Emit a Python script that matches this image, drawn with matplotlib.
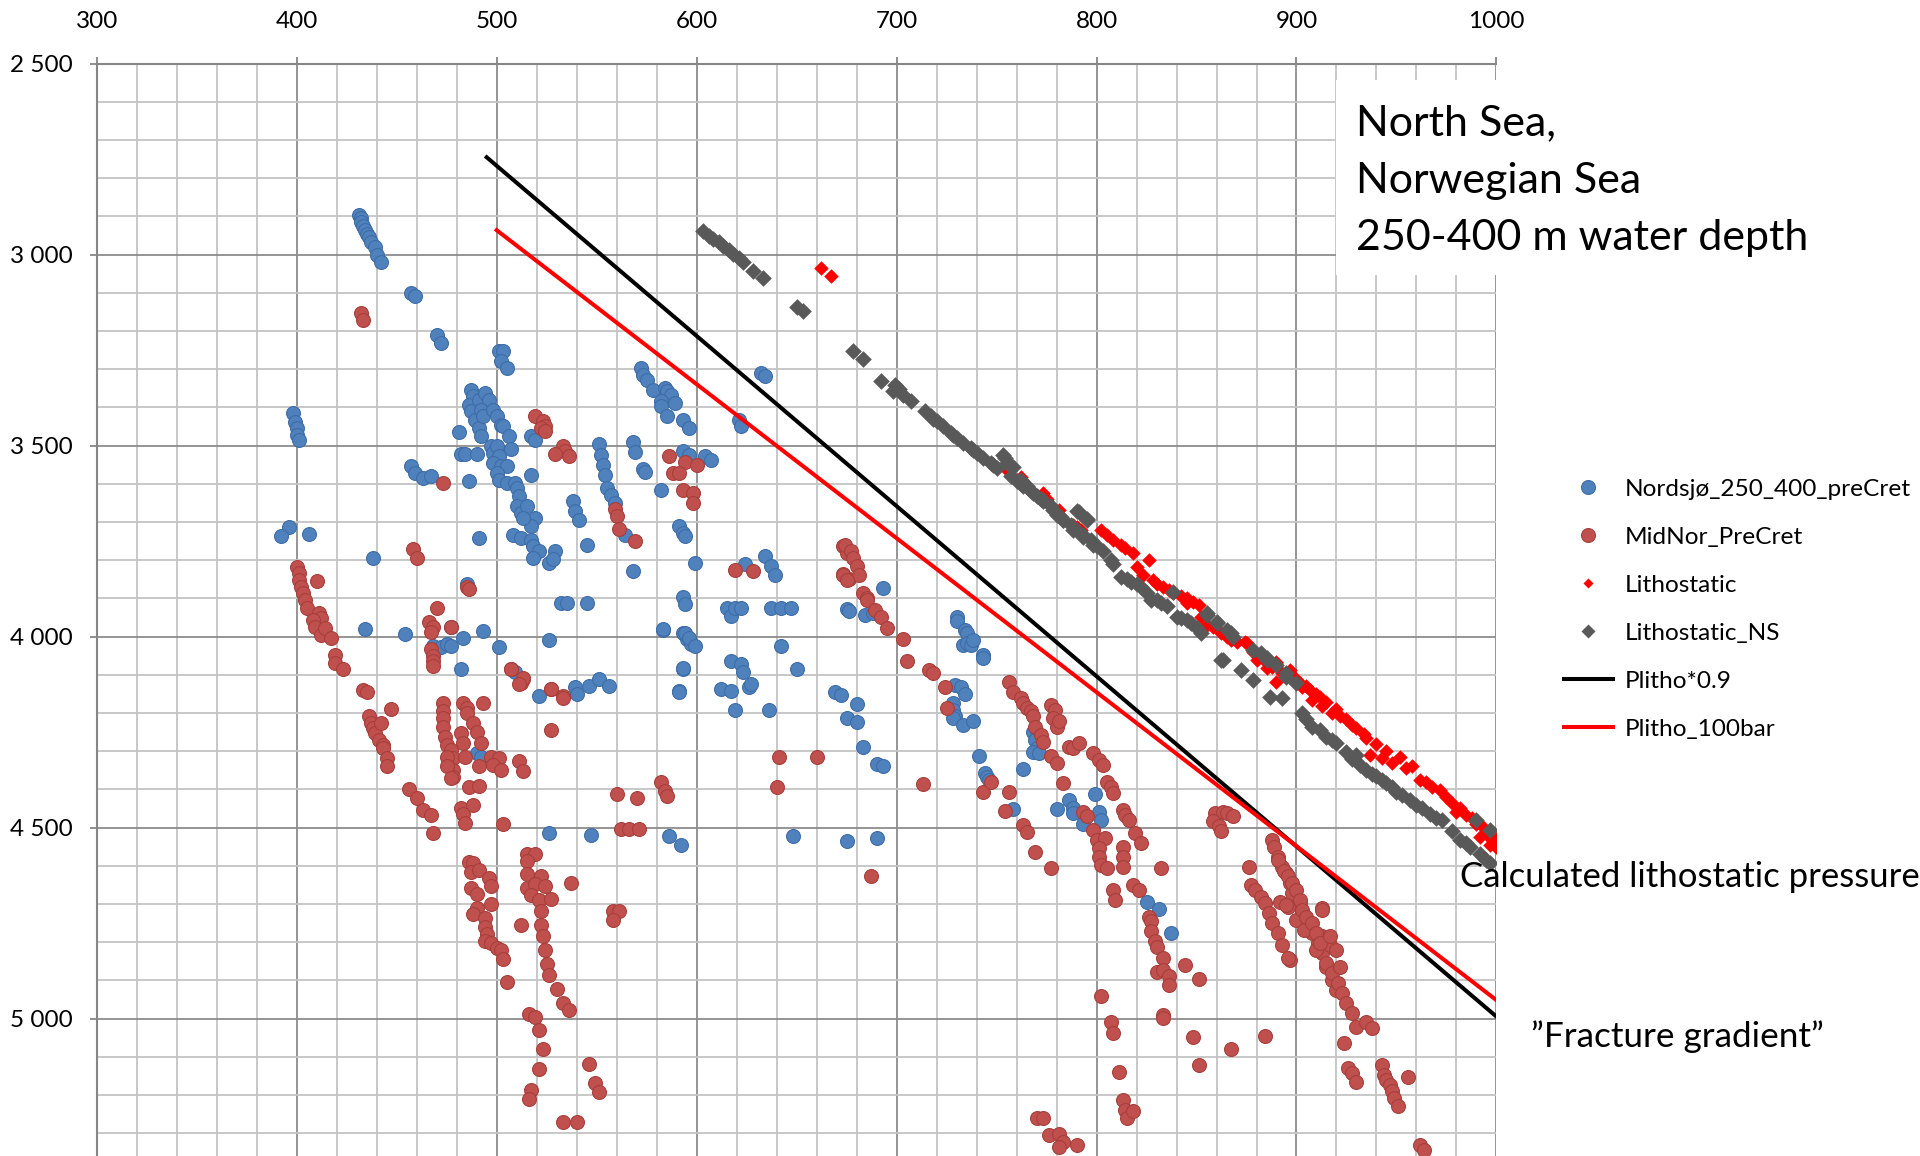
import matplotlib
matplotlib.use('Agg')
import matplotlib.pyplot as plt
from matplotlib.ticker import MultipleLocator, FuncFormatter
from matplotlib.lines import Line2D
from matplotlib.patches import Rectangle

# pore pressure (bar) vs depth (m)
nordsjo = [
    (431, 2895), (432, 2905), (432, 2915), (433, 2925), (434, 2935), (435, 2945), (436, 2955), (437, 2968),
    (439, 2980), (440, 3000), (442, 3020), (457, 3100), (459, 3108), (470, 3210), (472, 3232),
    (501, 3253), (503, 3253), (502, 3279), (505, 3297),
    (487, 3354), (488, 3371), (486, 3393), (487, 3410), (489, 3432), (491, 3454), (492, 3476), (491, 3380),
    (494, 3362), (496, 3380), (492, 3406), (493, 3423),
    (498, 3406), (500, 3423), (502, 3445), (503, 3448), (506, 3476), (507, 3510), (497, 3502), (498, 3519),
    (500, 3502), (501, 3528), (498, 3545), (502, 3554), (505, 3554), (500, 3571), (501, 3589), (505, 3598),
    (509, 3598), (510, 3611), (511, 3632), (510, 3659), (512, 3676), (515, 3659), (519, 3689), (517, 3711),
    (513, 3689), (508, 3733), (512, 3741), (517, 3746), (518, 3763), (521, 3776), (518, 3794), (526, 3807),
    (529, 3776), (528, 3798),
    (481, 3464), (482, 3521), (484, 3521), (490, 3521), (486, 3593), (491, 3743), (457, 3554), (459, 3571),
    (463, 3585), (467, 3580), (438, 3794), (517, 3476), (519, 3485), (517, 3576), (538, 3645), (539, 3672),
    (541, 3696), (551, 3497), (552, 3524), (553, 3550), (554, 3576), (555, 3611), (557, 3628), (559, 3650),
    (564, 3733), (545, 3761), (568, 3490), (569, 3517), (573, 3560), (574, 3569), (582, 3615), (591, 3711),
    (593, 3728), (594, 3737), (599, 3807), (593, 3515), (596, 3524), (604, 3528), (607, 3538), (621, 3432),
    (622, 3448), (632, 3310), (634, 3319), (572, 3297), (573, 3315), (575, 3328), (578, 3354), (584, 3349),
    (585, 3358), (587, 3367), (589, 3389), (582, 3384), (582, 3397), (585, 3423), (593, 3432), (596, 3454),
    (485, 3863), (532, 3913), (535, 3913), (545, 3913), (624, 3811), (634, 3789), (637, 3815), (639, 3839),
    (568, 3828), (593, 3896), (594, 3914), (615, 3924), (617, 3946), (619, 3926), (622, 3926), (637, 3924),
    (642, 3926), (647, 3926), (675, 3928), (693, 3873),
    (434, 3981), (454, 3994), (477, 3976), (493, 3985), (483, 4005), (501, 4026), (526, 4010), (583, 3983),
    (593, 3990), (595, 4007), (597, 4020), (642, 4024), (650, 4084), (468, 4024), (472, 4028), (475, 4020),
    (477, 4024), (482, 4085), (509, 4094), (593, 4085), (617, 4064), (622, 4072), (623, 4094), (612, 4137),
    (617, 4142), (626, 4131), (627, 4125), (669, 4146), (521, 4155), (539, 4133), (540, 4151), (546, 4129),
    (551, 4111), (556, 4129), (591, 4142),
    (398, 3415), (399, 3437), (400, 3455), (400, 3472), (401, 3485), (396, 3712), (392, 3736), (406, 3731),
    (490, 4305), (492, 4314), (526, 4515), (547, 4519), (586, 4522), (592, 4547), (591, 4144), (593, 4083),
    (583, 3981), (594, 3991), (596, 4005), (599, 4024), (619, 4192), (636, 4192), (648, 4522),
    (676, 3932), (684, 3943), (688, 3939), (730, 3948), (730, 3958), (734, 3983), (735, 3991), (733, 4022),
    (735, 4017), (737, 4022), (738, 4009), (743, 4048), (743, 4057), (672, 4153), (680, 4176), (675, 4214),
    (680, 4223), (683, 4288), (690, 4333), (693, 4339), (675, 4534), (690, 4528), (729, 4127), (732, 4131),
    (734, 4150), (728, 4173), (728, 4192), (729, 4209), (728, 4214), (733, 4231), (738, 4222), (741, 4312),
    (744, 4356), (745, 4367), (746, 4375), (758, 4451), (763, 4346), (768, 4249), (769, 4271), (770, 4292),
    (768, 4301), (771, 4305), (780, 4452), (786, 4429), (788, 4449), (788, 4462), (793, 4490), (799, 4412),
    (801, 4458), (802, 4480), (825, 4694), (831, 4713), (837, 4777),
]

midnor = [
    (432, 3153), (433, 3171), (519, 3423), (523, 3436), (524, 3449), (522, 3453), (524, 3462), (533, 3502),
    (534, 3515), (529, 3521), (536, 3528), (473, 3599), (559, 3667), (560, 3685), (561, 3719), (569, 3750),
    (586, 3528), (594, 3544), (600, 3551), (588, 3571), (591, 3571), (593, 3615), (598, 3624), (598, 3650),
    (458, 3770), (460, 3794), (485, 3869), (486, 3876), (470, 3924), (466, 3963), (468, 3976), (467, 3989),
    (477, 3976), (467, 4033), (468, 4050), (468, 4063), (468, 4076), (433, 4139), (435, 4144), (507, 4084),
    (513, 4112), (512, 4122), (527, 4136), (619, 3826), (628, 3828), (673, 3763), (675, 3780), (673, 3837),
    (676, 3850), (533, 4155),
    (400, 3817), (401, 3834), (401, 3852), (402, 3869), (403, 3887), (404, 3904), (405, 3926), (410, 3854),
    (411, 3939), (412, 3952), (408, 3956), (409, 3974), (412, 3996), (414, 3978), (417, 4004), (419, 4048),
    (419, 4070), (423, 4085), (447, 4189), (436, 4209), (437, 4227), (438, 4240), (439, 4253), (441, 4270),
    (443, 4284), (443, 4292), (445, 4319), (445, 4340), (442, 4227),
    (473, 4175), (473, 4196), (473, 4214), (473, 4236), (474, 4262), (475, 4284), (477, 4297), (478, 4319),
    (475, 4314), (478, 4349), (478, 4367), (483, 4173), (485, 4188), (485, 4201), (482, 4253), (488, 4227),
    (490, 4249), (492, 4279), (483, 4279), (484, 4314), (491, 4340), (493, 4173), (497, 4314), (501, 4319),
    (498, 4336), (502, 4349), (511, 4327), (513, 4353), (527, 4138), (533, 4161), (527, 4244), (513, 4109),
    (511, 4124), (507, 4085),
    (456, 4399), (460, 4422), (463, 4455), (467, 4468), (468, 4515), (475, 4339), (477, 4371), (482, 4450),
    (483, 4464), (484, 4487), (488, 4441), (503, 4492), (486, 4394), (491, 4390),
    (486, 4589), (488, 4594), (487, 4617), (491, 4612), (487, 4659), (490, 4673), (490, 4710), (488, 4726),
    (494, 4737), (494, 4761), (495, 4779), (494, 4798), (497, 4802), (500, 4816), (502, 4821), (503, 4844),
    (496, 4631), (497, 4654), (497, 4701), (505, 4904),
    (515, 4570), (519, 4568), (515, 4587), (515, 4622), (522, 4626), (515, 4659), (519, 4649), (517, 4677),
    (521, 4691), (524, 4654), (527, 4686), (522, 4719), (522, 4756), (523, 4784), (524, 4821), (525, 4858),
    (526, 4886), (530, 4923), (533, 4960), (536, 4977), (512, 4756), (537, 4645), (516, 4988), (519, 4997),
    (521, 5030), (523, 5081), (521, 5132), (517, 5187), (516, 5210), (546, 5118), (549, 5169), (551, 5192),
    (533, 5271), (540, 5271), (560, 4411), (570, 4422), (562, 4504), (566, 4504), (571, 4504), (558, 4719),
    (561, 4719), (558, 4742), (582, 4380), (584, 4404), (585, 4417), (641, 4314), (640, 4394), (660, 4314),
    (674, 3759), (677, 3777), (678, 3794), (680, 3816), (681, 3838), (673, 3838), (675, 3851), (683, 3886),
    (685, 3899),
    (685, 3904), (689, 3930), (692, 3948), (695, 3978), (703, 4007), (705, 4064), (716, 4087), (718, 4096),
    (724, 4133), (725, 4188), (713, 4386), (687, 4628), (743, 4408), (747, 4380), (756, 4408), (754, 4456),
    (756, 4118), (758, 4144), (762, 4161), (763, 4175), (765, 4188), (767, 4196), (768, 4209), (769, 4236),
    (772, 4257), (773, 4275), (777, 4312), (780, 4332), (783, 4384), (763, 4493), (765, 4511), (769, 4565),
    (777, 4607), (777, 4179), (779, 4192), (778, 4214), (780, 4236), (781, 4222), (786, 4288), (788, 4292),
    (791, 4278), (798, 4305), (801, 4323), (803, 4336), (805, 4380), (807, 4393), (808, 4410), (793, 4458),
    (795, 4471), (798, 4506), (800, 4532), (804, 4528), (801, 4554), (801, 4576), (802, 4598), (805, 4607),
    (813, 4454), (814, 4467), (816, 4480), (813, 4550), (813, 4576), (813, 4602), (819, 4515), (822, 4541),
    (832, 4607), (818, 4650), (821, 4663), (808, 4663), (809, 4689), (826, 4733), (827, 4746), (827, 4772),
    (829, 4798), (830, 4812), (833, 4842), (830, 4877), (833, 4873), (836, 4890), (836, 4912), (844, 4861),
    (851, 4897), (802, 4940),
    (859, 4463), (863, 4458), (865, 4463), (868, 4471), (858, 4484), (861, 4497), (862, 4510), (876, 4602),
    (888, 4532), (889, 4550), (891, 4576), (893, 4602), (895, 4620), (897, 4646), (898, 4672), (902, 4698),
    (903, 4724), (905, 4750), (908, 4777), (911, 4803), (913, 4829), (915, 4864), (918, 4899), (920, 4925),
    (877, 4650), (879, 4663), (882, 4681), (884, 4698), (886, 4724), (888, 4750), (891, 4777), (893, 4807),
    (897, 4846), (892, 4694), (896, 4707), (900, 4742), (904, 4768), (910, 4820), (913, 4785), (917, 4807),
    (913, 4711),
    (891, 4585), (894, 4615), (896, 4628), (898, 4646), (900, 4663), (902, 4689), (903, 4716), (905, 4733),
    (908, 4751), (910, 4777), (912, 4803), (915, 4855), (918, 4881), (921, 4908), (923, 4934), (925, 4960),
    (928, 4986), (930, 5021), (935, 5008), (938, 5025), (924, 5065), (913, 4716), (917, 4785), (920, 4820),
    (922, 4864), (895, 4702), (926, 5130), (928, 5143), (930, 5165), (943, 5121), (944, 5148), (945, 5160),
    (947, 5174), (948, 5191), (949, 5209), (951, 5230), (956, 5152), (962, 5331), (964, 5344),
    (833, 4990), (833, 4999), (848, 5049), (867, 5080), (884, 5047), (851, 5121), (811, 5141), (807, 5008),
    (808, 5038), (813, 5213), (814, 5239), (815, 5261), (818, 5243),
    (770, 5260), (773, 5260), (776, 5306), (781, 5302), (783, 5323), (781, 5336), (790, 5330), (896, 4841),
]

litho = [
    (662, 3034), (667, 3056), (754, 3554), (775, 3641), (781, 3668), (788, 3707), (792, 3720),
    (754, 3559), (762, 3581), (773, 3625), (790, 3712), (802, 3721), (808, 3747), (814, 3769), (818, 3782),
    (826, 3799), (820, 3817), (823, 3839), (828, 3852), (833, 3869), (838, 3887), (845, 3900), (851, 3917),
    (855, 3969), (862, 3991), (867, 4009), (874, 4013), (880, 4061), (885, 4083), (890, 4066), (897, 4087),
    (890, 4118), (902, 4122), (907, 4140), (912, 4157),
    (845, 3913), (852, 3948), (875, 4017), (890, 4070), (897, 4096), (903, 4131), (908, 4166), (913, 4183),
    (918, 4201), (922, 4208), (928, 4231), (934, 4256), (940, 4280),
    (937, 4310), (943, 4318), (952, 4314), (958, 4340), (962, 4375), (972, 4401), (978, 4436), (985, 4467),
    (993, 4497), (998, 4532), (1000, 4550),
    (805, 3735), (812, 3760), (830, 3862), (836, 3878), (842, 3893), (848, 3910), (858, 3975), (865, 4000),
    (870, 4015), (878, 4040), (883, 4060), (888, 4080), (893, 4095), (900, 4110), (905, 4130), (910, 4150),
    (915, 4170), (920, 4190), (925, 4215), (930, 4240), (935, 4265), (945, 4300), (948, 4330), (955, 4345),
    (965, 4380), (968, 4395), (975, 4420), (982, 4450), (988, 4475), (990, 4490), (995, 4515), (1000, 4530),
    (997, 4545), (992, 4525), (980, 4460),
]

litho_ns = [
    (603, 2939), (606, 2950), (608, 2959), (611, 2968), (613, 2978), (616, 2987), (618, 2997), (621, 3009),
    (623, 3020), (628, 3044), (633, 3061), (650, 3137), (653, 3148), (678, 3253), (683, 3273), (692, 3332),
    (699, 3340), (701, 3353), (698, 3358), (703, 3367), (707, 3384), (714, 3410), (717, 3423), (720, 3436),
    (723, 3449), (727, 3467), (730, 3480), (733, 3493), (737, 3506), (740, 3519), (743, 3532), (747, 3545),
    (750, 3558), (754, 3532), (757, 3554), (757, 3580), (760, 3593), (763, 3606), (767, 3620), (770, 3633),
    (773, 3646), (777, 3659), (780, 3681), (783, 3694), (787, 3707), (790, 3672), (795, 3694), (790, 3720),
    (793, 3733), (797, 3746), (800, 3763), (718, 3430), (728, 3472), (738, 3512), (748, 3552), (762, 3600),
    (772, 3640), (782, 3686),
    (753, 3524), (755, 3546), (758, 3555), (762, 3590), (765, 3607), (768, 3625), (773, 3642), (778, 3668),
    (783, 3695), (788, 3721), (791, 3673), (795, 3693), (793, 3738), (798, 3760), (803, 3777), (807, 3799),
    (812, 3843), (817, 3856), (822, 3869), (825, 3887), (830, 3904), (835, 3921), (838, 3882), (840, 3948),
    (842, 3952), (845, 3956), (850, 3978), (855, 3943), (860, 3961), (865, 3983), (868, 4000), (862, 4061),
    (872, 4087), (878, 4113), (882, 4044), (885, 4057), (890, 4074), (895, 4096), (900, 4122),
    (827, 3904), (855, 3939), (860, 3965), (867, 3991), (878, 4035), (885, 4061), (895, 4105), (887, 4157),
    (893, 4161), (903, 4201), (908, 4236), (915, 4262), (920, 4279), (863, 4061),
    (925, 4301), (930, 4310), (935, 4349), (940, 4366), (945, 4384), (950, 4406), (957, 4428), (963, 4449),
    (973, 4480), (982, 4532), (987, 4550), (997, 4593), (990, 4480), (997, 4506),
    (905, 4215), (912, 4245), (918, 4270), (928, 4320), (932, 4335), (938, 4360), (943, 4375), (948, 4395),
    (953, 4415), (960, 4440), (967, 4465), (970, 4475), (978, 4510), (985, 4540), (992, 4570), (995, 4585),
    (808, 3810), (815, 3850), (820, 3862), (832, 3912), (847, 3965), (852, 3990),
]

plitho_09_x = [495, 1000]
plitho_09_y = [2745, 4995]
plitho_100_x = [500, 1000]
plitho_100_y = [2936, 4952]

labels = ['Nordsjø_250_400_preCret', 'MidNor_PreCret', 'Lithostatic', 'Lithostatic_NS',
          'Plitho*0.9', 'Plitho_100bar']

plt.rcParams['font.family'] = ['Lato', 'DejaVu Sans']

BLUE, BLUE_E = '#4F81BD', '#3E6DA6'
RED, RED_E = '#C0504D', '#A63F3C'
GREY = '#595959'

fig = plt.figure(figsize=(19.2, 11.56), dpi=100)
ax = fig.add_axes([0.0504, 0.0, 0.7290, 0.9449])

nx, ny = zip(*nordsjo)
mx, my = zip(*midnor)
lx, ly = zip(*litho)
gx, gy = zip(*litho_ns)

ax.scatter(nx, ny, s=100, c=BLUE, edgecolors=BLUE_E, linewidths=0.8, zorder=3)
ax.scatter(mx, my, s=100, c=RED, edgecolors=RED_E, linewidths=0.8, zorder=4)
ax.scatter(lx, ly, s=55, marker='D', c='#FF0000', linewidths=0, zorder=5)
ax.scatter(gx, gy, s=72, marker='D', c=GREY, linewidths=0, zorder=6)
ax.plot(plitho_09_x, plitho_09_y, color='black', lw=2.9, zorder=7)
ax.plot(plitho_100_x, plitho_100_y, color='#FF0000', lw=2.9, zorder=7)

ax.set_xlim(300, 1000)
ax.set_ylim(5360, 2500)
ax.xaxis.tick_top()
ax.xaxis.set_major_locator(MultipleLocator(100))
ax.xaxis.set_minor_locator(MultipleLocator(20))
ax.yaxis.set_major_locator(MultipleLocator(500))
ax.yaxis.set_minor_locator(MultipleLocator(100))
ax.yaxis.set_major_formatter(FuncFormatter(lambda v, p: f'{int(v):,}'.replace(',', ' ')))

ax.set_axisbelow(True)
ax.grid(which='major', color='#8C8C8C', lw=1.3)
ax.grid(which='minor', color='#C4C4C4', lw=1.3)
ax.tick_params(which='minor', length=0)
ax.tick_params(which='major', length=5, width=1.3, color='#868686', labelsize=17.5, direction='out')
ax.tick_params(axis='x', pad=18)
ax.tick_params(axis='y', pad=12)
for side in ['right', 'bottom']:
    ax.spines[side].set_visible(False)
for side in ['top', 'left']:
    ax.spines[side].set_color('#868686')
    ax.spines[side].set_linewidth(1.5)

# white box behind the region label
ax.add_patch(Rectangle((920, 2543), 80, 509, facecolor='white', edgecolor='none', zorder=2))
fig.text(0.706, 0.8437, 'North Sea,\nNorwegian Sea\n250-400 m water depth',
         fontsize=31, va='center', ha='left', linespacing=1.62)

fig.text(0.7602, 0.2416, 'Calculated lithostatic pressure', fontsize=25, va='center', ha='left', zorder=10)
fig.text(0.7972, 0.1029, '\u201dFracture gradient\u201d', fontsize=25.3, va='center', ha='left')

handles = [
    Line2D([], [], ls='none', marker='o', ms=10, mfc=BLUE, mec=BLUE_E, mew=0.8),
    Line2D([], [], ls='none', marker='o', ms=10, mfc=RED, mec=RED_E, mew=0.8),
    Line2D([], [], ls='none', marker='D', ms=5.5, mfc='#FF0000', mec='none'),
    Line2D([], [], ls='none', marker='D', ms=7, mfc=GREY, mec='none'),
    Line2D([], [], color='black', lw=2.9),
    Line2D([], [], color='#FF0000', lw=2.9),
]
fig.legend(handles, labels, loc='upper left', bbox_to_anchor=(0.8144, 0.5859), frameon=False,
           fontsize=17.6, handlelength=2.0, handletextpad=0.5, labelspacing=1.10,
           borderpad=0, borderaxespad=0)

fig.savefig('out.png', dpi=100)
